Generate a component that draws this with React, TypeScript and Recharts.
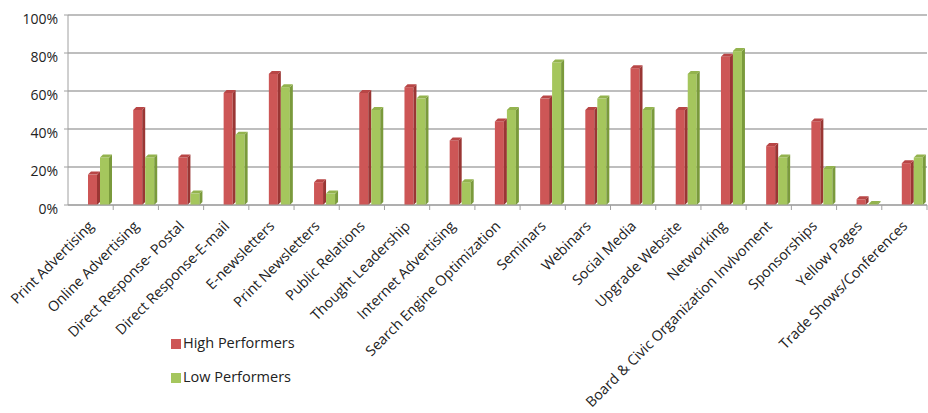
import React from "react";
import { BarChart, Bar, XAxis, YAxis, CartesianGrid, Legend } from "recharts";

const categories = [
  "Print Advertising",
  "Online Advertising",
  "Direct Response- Postal",
  "Direct Response-E-mail",
  "E-newsletters",
  "Print Newsletters",
  "Public Relations",
  "Thought Leadership",
  "Internet Advertising",
  "Search Engine Optimization",
  "Seminars",
  "Webinars",
  "Social Media",
  "Upgrade Website",
  "Networking",
  "Board & Civic Organization Invlvoment",
  "Sponsorships",
  "Yellow Pages",
  "Trade Shows/Conferences",
];

const highPerformers = [16, 50, 25, 59, 69, 12, 59, 62, 34, 44, 56, 50, 72, 50, 78, 31, 44, 3, 22];
const lowPerformers = [25, 25, 6, 37, 62, 6, 50, 56, 12, 50, 75, 56, 50, 69, 81, 25, 19, 0.5, 25];
const yTicks = [0, 20, 40, 60, 80, 100];

const data = categories.map((name, i) => ({
  name,
  high: highPerformers[i],
  low: lowPerformers[i],
}));

const FONT = "'Open Sans', sans-serif";
const BAND = 859 / categories.length;
// 3D look: the bars sit toward the back-right of each category slot
const SHIFT = 9;

const make3D = (front: string, side: string, top: string) => (props: any) => {
  const { y, width, height } = props;
  if (width == null || height == null) return null;
  const x = props.x + SHIFT;
  const d = 3;
  const w = width;
  return (
    <g>
      <rect x={x} y={y} width={w - d} height={height} fill={front} />
      <polygon
        points={`${x + w - d},${y} ${x + w},${y - d} ${x + w},${y + height - d} ${x + w - d},${y + height}`}
        fill={side}
      />
      <polygon points={`${x},${y} ${x + d},${y - d} ${x + w},${y - d} ${x + w - d},${y}`} fill={top} />
    </g>
  );
};

const RedBar = make3D("#cd5656", "#9a3634", "#b84646");
const GreenBar = make3D("#a5c65d", "#7a9a3c", "#93b34e");

const XTick = (props: any) => {
  const { x, y, payload } = props;
  return (
    <g>
      <line x1={x + BAND / 2} y1={y - 8} x2={x + BAND / 2} y2={y - 3} stroke="#a0a0a0" />
      <text
        x={x + 4}
        y={y + 14}
        textAnchor="end"
        transform={`rotate(-45, ${x + 4}, ${y + 14})`}
        fontFamily={FONT}
        fontSize={14.3}
        fill="#222"
      >
        {payload.value}
      </text>
    </g>
  );
};

const YTick = (props: any) => {
  const { x, y, payload } = props;
  return (
    <text x={x - 4} y={y + 9} textAnchor="end" fontFamily={FONT} fontSize={14} fill="#222">
      {payload.value}%
    </text>
  );
};

const App = () => {
  return (
    <div style={{ position: "absolute", left: 0, top: 0, background: "#fff" }}>
      <BarChart
        width={928}
        height={413}
        data={data}
        margin={{ top: 15, right: 1, bottom: 0, left: 8 }}
        barGap={0}
        barCategoryGap={11}
      >
        <CartesianGrid vertical={false} stroke="#a8a8a8" strokeWidth={1.5} />
        <XAxis
          dataKey="name"
          interval={0}
          height={208}
          tick={<XTick />}
          tickLine={false}
          axisLine={{ stroke: "#a0a0a0" }}
        />
        <YAxis
          domain={[0, 100]}
          ticks={yTicks}
          width={60}
          tick={<YTick />}
          tickLine={{ stroke: "#a0a0a0" }}
          tickSize={4}
          axisLine={{ stroke: "#a0a0a0" }}
        />
        <Legend
          layout="vertical"
          align="center"
          verticalAlign="middle"
          iconType="square"
          iconSize={10}
          wrapperStyle={{ left: 171, top: 326, width: 160, fontFamily: FONT, fontSize: 14.5 }}
          formatter={(value: string) => (
            <span style={{ color: "#222", marginLeft: -2, lineHeight: "34px" }}>{value}</span>
          )}
        />
        <Bar dataKey="high" name="High Performers" fill="#cd5656" shape={RedBar} isAnimationActive={false} />
        <Bar dataKey="low" name="Low Performers" fill="#a5c65d" shape={GreenBar} isAnimationActive={false} />
      </BarChart>
    </div>
  );
};

export default App;
